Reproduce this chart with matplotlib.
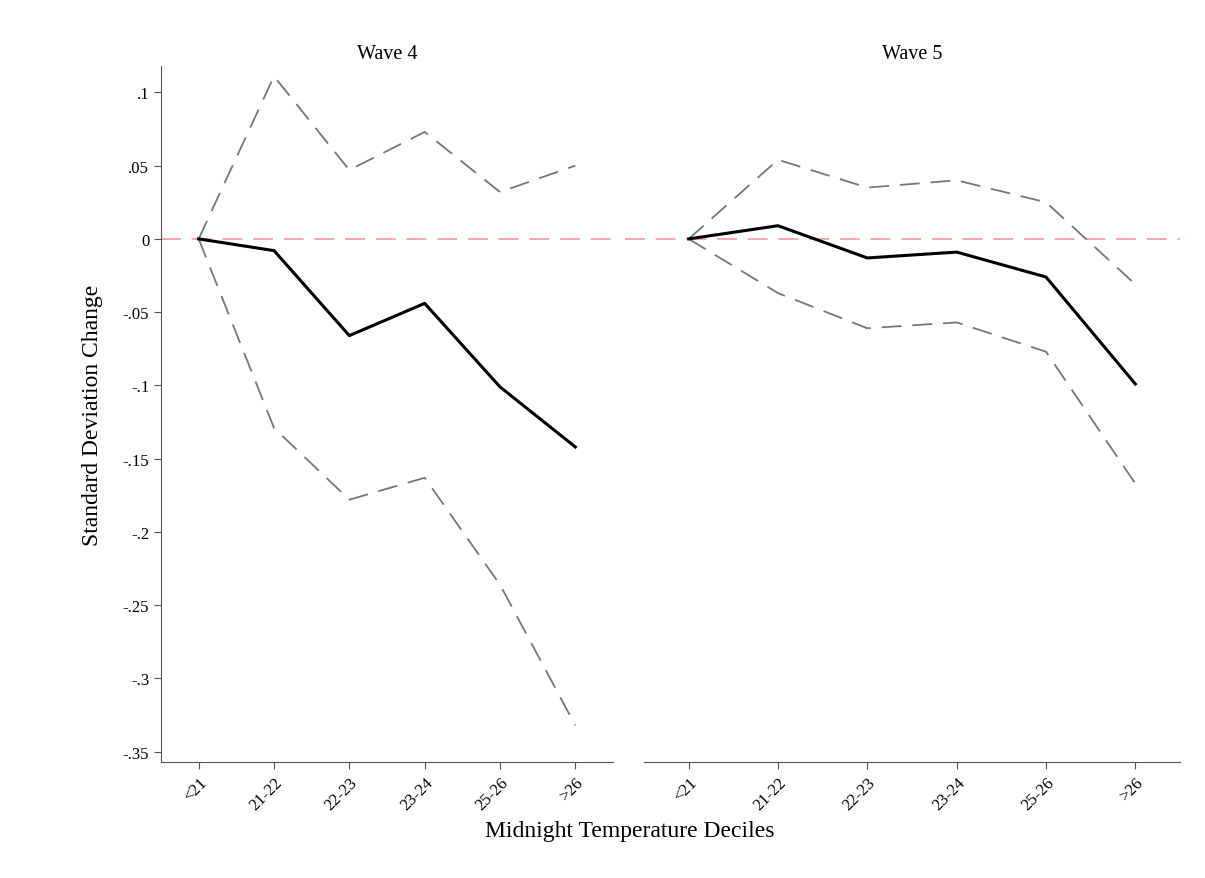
import matplotlib.pyplot as plt

plt.rcParams['font.family'] = ['Liberation Serif', 'DejaVu Serif']

deciles = ['<21', '21-22', '22-23', '23-24', '25-26', '>26']

# Wave 4
w4_est = [0, -0.008, -0.066, -0.044, -0.101, -0.142]
w4_hi = [0, 0.111, 0.047, 0.073, 0.032, 0.050]
w4_lo = [0, -0.129, -0.178, -0.163, -0.236, -0.332]

# Wave 5
w5_est = [0, 0.009, -0.013, -0.009, -0.026, -0.099]
w5_hi = [0, 0.054, 0.035, 0.040, 0.025, -0.031]
w5_lo = [0, -0.037, -0.061, -0.057, -0.077, -0.167]

yticks = [0.1, 0.05, 0, -0.05, -0.1, -0.15, -0.2, -0.25, -0.3, -0.35]
ytick_labels = ['.1', '.05', '0', '-.05', '-.1', '-.15', '-.2', '-.25', '-.3', '-.35']

W, H = 1205, 879
fig = plt.figure(figsize=(W / 100, H / 100), dpi=100)

# axes rectangles in pixels: left, right
panels = [(161, 613, 'Wave 4', w4_est, w4_hi, w4_lo),
          (644, 1180, 'Wave 5', w5_est, w5_hi, w5_lo)]
top_px, bot_px = 67, 763

xs = list(range(1, len(deciles) + 1))
spine_col = '#555555'

for i, (l, r, title, est, hi, lo) in enumerate(panels):
    ax = fig.add_axes([l / W, 1 - bot_px / H, (r - l) / W, (bot_px - top_px) / H])
    if i == 0:
        ax.axhline(0, color='#f4a3a3', lw=1.3, dashes=(11, 6), zorder=1)
    else:
        ax.axhline(0, xmin=-0.035, xmax=1, color='#f4a3a3', lw=1.3, dashes=(11, 6),
                   zorder=1, clip_on=False)
    ax.plot(xs, hi, color='#777777', lw=1.3, dashes=(11, 6))
    ax.plot(xs, lo, color='#777777', lw=1.3, dashes=(11, 6))
    ax.plot(xs, est, color='black', lw=2.2)
    ax.set_xlim(0.5, 6.5)
    ax.set_ylim(-0.357, 0.118)
    ax.set_xticks(xs)
    ax.set_xticklabels(deciles, rotation=45, ha='right', rotation_mode='anchor', fontsize=12)
    ax.set_title(title, fontsize=14.5, pad=6)
    for s in ['top', 'right']:
        ax.spines[s].set_visible(False)
    ax.spines['bottom'].set_color(spine_col)
    ax.spines['left'].set_color(spine_col)
    ax.tick_params(axis='x', direction='out', length=5, color=spine_col, pad=4)
    if i == 0:
        ax.set_yticks(yticks)
        ax.set_yticklabels(ytick_labels, fontsize=12)
        ax.tick_params(axis='y', direction='out', length=5, color=spine_col)
        ax.set_ylabel('Standard Deviation Change', fontsize=17, labelpad=14)
    else:
        ax.spines['left'].set_visible(False)
        ax.set_yticks([])

fig.text(630 / W, 1 - 832 / H, 'Midnight Temperature Deciles', fontsize=17,
         ha='center', va='center')

fig.savefig('out.png', dpi=100, facecolor='white')
